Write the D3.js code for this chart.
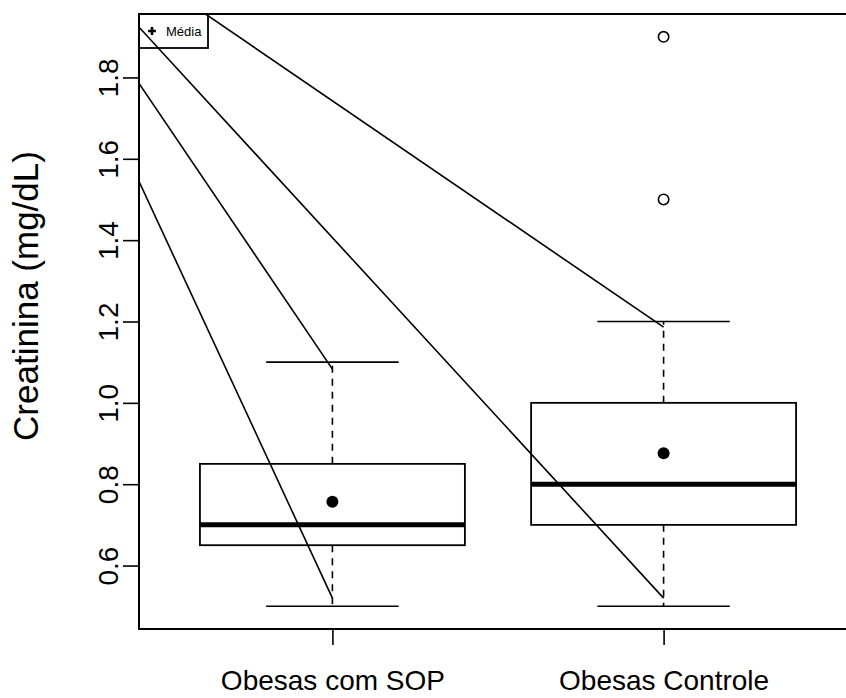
<!DOCTYPE html>
<html>
<head>
<meta charset="utf-8">
<script src="https://cdn.jsdelivr.net/npm/d3@7"></script>
<style>
  html, body { margin: 0; padding: 0; background: #fff; }
  svg { display: block; }
  text { font-family: "Liberation Sans", Arial, Helvetica, sans-serif; fill: #000; }
</style>
</head>
<body>
<svg id="chart" width="846" height="698"></svg>
<script>
// Creatinine by group: box statistics
const categories   = ["Obesas com SOP", "Obesas Controle"];
const lowerWhisker = [0.50, 0.50];
const q1           = [0.65, 0.70];
const medians      = [0.70, 0.80];
const q3           = [0.85, 1.00];
const upperWhisker = [1.10, 1.20];
const means        = [0.757, 0.876];
const outliers     = [[], [1.5, 1.9]];

// Pointer lines: common anchor (data units) and their tips near each whisker end
const pointerAnchor = [-0.021, 2.311];
const pointerTips   = [[1, 0.52], [1, 1.083], [2, 0.52], [2, 1.186]];

const yTicks = [0.6, 0.8, 1.0, 1.2, 1.4, 1.6, 1.8];
const yLabel = "Creatinina (mg/dL)";
const legendLabel = "Média";

const svg = d3.select("#chart");
const plot = { left: 139, top: 14, bottom: 629, right: 857 };

const x = d3.scaleLinear().domain([0.416, 2.584]).range([plot.left, plot.right]);
const y = d3.scaleLinear().domain([0.444, 1.956]).range([plot.bottom, plot.top]);

const boxHalf = 0.4, capHalf = 0.2;

svg.append("defs").append("clipPath").attr("id", "plotClip")
  .append("rect")
  .attr("x", plot.left).attr("y", plot.top)
  .attr("width", plot.right - plot.left).attr("height", plot.bottom - plot.top);

const g = svg.append("g");

// boxes
categories.forEach((c, i) => {
  const xc = x(i + 1);
  // whiskers (dashed)
  g.append("line").attr("x1", xc).attr("x2", xc)
    .attr("y1", y(q3[i])).attr("y2", y(upperWhisker[i]))
    .attr("stroke", "#000").attr("stroke-width", 1.6).attr("stroke-dasharray", "7,6");
  g.append("line").attr("x1", xc).attr("x2", xc)
    .attr("y1", y(q1[i])).attr("y2", y(lowerWhisker[i]))
    .attr("stroke", "#000").attr("stroke-width", 1.6).attr("stroke-dasharray", "7,6");
  // caps
  [lowerWhisker[i], upperWhisker[i]].forEach(v => {
    g.append("line")
      .attr("x1", x(i + 1 - capHalf)).attr("x2", x(i + 1 + capHalf))
      .attr("y1", y(v)).attr("y2", y(v))
      .attr("stroke", "#000").attr("stroke-width", 1.6);
  });
  // box
  g.append("rect")
    .attr("x", x(i + 1 - boxHalf)).attr("y", y(q3[i]))
    .attr("width", x(i + 1 + boxHalf) - x(i + 1 - boxHalf))
    .attr("height", y(q1[i]) - y(q3[i]))
    .attr("fill", "none").attr("stroke", "#000").attr("stroke-width", 1.8);
  // median
  g.append("line")
    .attr("x1", x(i + 1 - boxHalf)).attr("x2", x(i + 1 + boxHalf))
    .attr("y1", y(medians[i])).attr("y2", y(medians[i]))
    .attr("stroke", "#000").attr("stroke-width", 5);
  // outliers
  outliers[i].forEach(v => {
    g.append("circle").attr("cx", xc).attr("cy", y(v)).attr("r", 5.2)
      .attr("fill", "none").attr("stroke", "#000").attr("stroke-width", 1.6);
  });
  // mean
  g.append("circle").attr("cx", xc).attr("cy", y(means[i])).attr("r", 6)
    .attr("fill", "#000");
});

// pointer lines
const pl = svg.append("g").attr("clip-path", "url(#plotClip)");
pointerTips.forEach(t => {
  pl.append("line")
    .attr("x1", x(pointerAnchor[0])).attr("y1", y(pointerAnchor[1]))
    .attr("x2", x(t[0])).attr("y2", y(t[1]))
    .attr("stroke", "#000").attr("stroke-width", 1.6);
});

// frame
svg.append("rect")
  .attr("x", plot.left).attr("y", plot.top)
  .attr("width", plot.right - plot.left).attr("height", plot.bottom - plot.top)
  .attr("fill", "none").attr("stroke", "#000").attr("stroke-width", 2);

// y axis
const yAxis = svg.append("g").attr("transform", `translate(${plot.left},0)`)
  .call(d3.axisLeft(y).tickValues(yTicks).tickFormat(d3.format(".1f")).tickSize(16).tickSizeOuter(0));
yAxis.select(".domain").attr("stroke", "#000").attr("stroke-width", 2)
  .attr("d", `M0,${y(yTicks[0])}V${y(yTicks[yTicks.length - 1])}`);
yAxis.selectAll(".tick line").attr("stroke", "#000").attr("stroke-width", 1.6);
yAxis.selectAll(".tick text")
  .attr("font-size", 28).attr("font-family", "Liberation Sans, Arial, sans-serif")
  .attr("x", null).attr("dy", null).attr("text-anchor", "middle")
  .attr("transform", "translate(-21,0) rotate(-90)")
  .attr("y", 0);

// x axis
const xAxis = svg.append("g").attr("transform", `translate(0,${plot.bottom})`)
  .call(d3.axisBottom(x).tickValues([1, 2]).tickFormat((d) => categories[d - 1]).tickSize(16).tickSizeOuter(0));
xAxis.select(".domain").remove();
xAxis.selectAll(".tick text")
  .attr("font-size", 28).attr("font-family", "Liberation Sans, Arial, sans-serif")
  .attr("y", 61).attr("dy", null);
xAxis.selectAll(".tick line").attr("stroke", "#000").attr("stroke-width", 1.6);

// y label
svg.append("text")
  .attr("transform", `translate(38,296) rotate(-90)`)
  .attr("text-anchor", "middle").attr("font-size", 35)
  .text(yLabel);

// legend
const lg = svg.append("g");
lg.append("rect").attr("x", plot.left).attr("y", plot.top).attr("width", 69).attr("height", 34)
  .attr("fill", "none").attr("stroke", "#000").attr("stroke-width", 1.8);
lg.append("path").attr("d", d3.symbol(d3.symbolCross, 34)())
  .attr("transform", `translate(152,31)`).attr("fill", "#000");
lg.append("text").attr("x", 166).attr("y", 36).attr("font-size", 13).text(legendLabel);
</script>
</body>
</html>
